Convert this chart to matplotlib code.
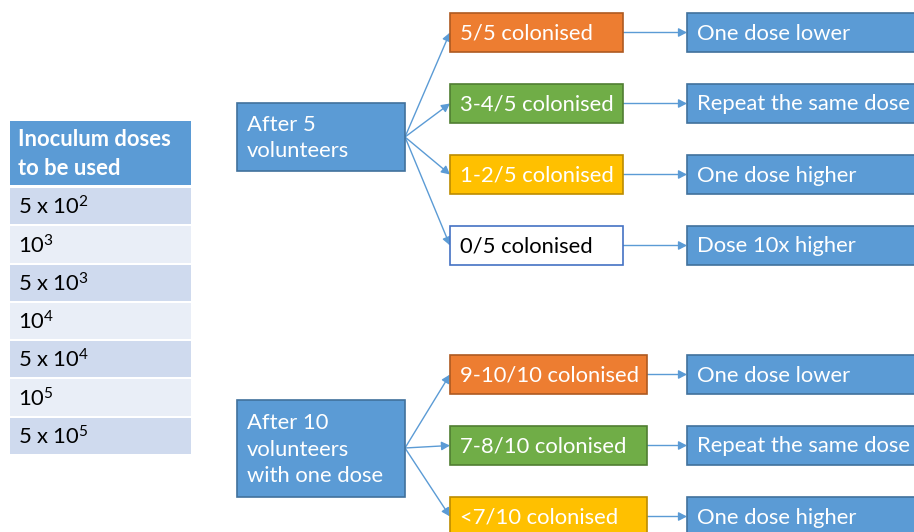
import matplotlib
matplotlib.use("Agg")
import matplotlib.pyplot as plt
from matplotlib.patches import Rectangle, FancyArrowPatch

plt.rcParams['font.family'] = ['Lato', 'DejaVu Sans']
plt.rcParams['mathtext.fontset'] = 'custom'
plt.rcParams['mathtext.rm'] = 'Lato'
plt.rcParams['mathtext.it'] = 'Lato:italic'
plt.rcParams['mathtext.bf'] = 'Lato:bold'

# ---- content ----
table_header = "Inoculum doses\nto be used"
doses = ["5 x 10$^{2}$", "10$^{3}$", "5 x 10$^{3}$", "10$^{4}$",
         "5 x 10$^{4}$", "10$^{5}$", "5 x 10$^{5}$"]

stage1_label = "After 5\nvolunteers"
stage1_outcomes = ["5/5 colonised", "3-4/5 colonised", "1-2/5 colonised", "0/5 colonised"]
stage1_actions = ["One dose lower", "Repeat the same dose", "One dose higher", "Dose 10x higher"]

stage2_label = "After 10\nvolunteers\nwith one dose"
stage2_outcomes = ["9-10/10 colonised", "7-8/10 colonised", "<7/10 colonised"]
stage2_actions = ["One dose lower", "Repeat the same dose", "One dose higher"]

# ---- styles ----
BLUE = "#5B9BD5"; BLUE_EDGE = "#41719C"
ORANGE = "#ED7D31"; ORANGE_EDGE = "#AE5A21"
GREEN = "#70AD47"; GREEN_EDGE = "#507E32"
YELLOW = "#FFC000"; YELLOW_EDGE = "#BC8C00"
WHITE = "#FFFFFF"; WHITE_EDGE = "#4472C4"
outcome_styles = [(ORANGE, ORANGE_EDGE, "white"), (GREEN, GREEN_EDGE, "white"),
                  (YELLOW, YELLOW_EDGE, "white"), (WHITE, WHITE_EDGE, "black")]
FS = 15.8
LS = 1.42

W, H = 914, 532
fig = plt.figure(figsize=(W / 100, H / 100), dpi=100)
ax = fig.add_axes([0, 0, 1, 1])
ax.set_xlim(0, W)
ax.set_ylim(H, 0)
ax.axis("off")


def box(x0, y0, x1, y1, fc, ec, text, tc, fs=FS, lw=1.2, **kw):
    ax.add_patch(Rectangle((x0, y0), x1 - x0, y1 - y0, facecolor=fc,
                           edgecolor=ec, linewidth=lw, zorder=2))
    ax.text(x0 + 10, (y0 + y1) / 2 + 1, text, color=tc, fontsize=fs,
            ha="left", va="center", linespacing=LS, zorder=3, **kw)


def arrow(p0, p1):
    ax.add_patch(FancyArrowPatch(p0, p1, arrowstyle="-|>,head_length=5,head_width=2.6",
                                 mutation_scale=1, color=BLUE, linewidth=1.0,
                                 shrinkA=0, shrinkB=0, zorder=1))

# ---- table ----
tx0, tx1 = 10, 191
ax.add_patch(Rectangle((tx0, 121), tx1 - tx0, 64, facecolor=BLUE, edgecolor="none"))
ax.text(tx0 + 8, 154, table_header, color="white", fontsize=FS, fontweight="bold",
        ha="left", va="center", linespacing=LS)
row_h = (455 - 187) / len(doses)
for i, d in enumerate(doses):
    y0 = 187 + i * row_h
    fc = "#CFDAEE" if i % 2 == 0 else "#E9EEF7"
    ax.add_patch(Rectangle((tx0, y0 + 1), tx1 - tx0, row_h - 2, facecolor=fc, edgecolor="none"))
    ax.text(tx0 + 8, y0 + row_h / 2 + 1, d, color="black", fontsize=FS,
            ha="left", va="center")

# ---- stage 1 ----
box(237, 103, 405, 171, BLUE, BLUE_EDGE, stage1_label, "white")
ys1 = [13, 84, 155, 226]
oh = 39
for i, (o, a) in enumerate(zip(stage1_outcomes, stage1_actions)):
    fc, ec, tc = outcome_styles[i]
    y0 = ys1[i]
    box(450, y0, 623, y0 + oh, fc, ec, o, tc)
    box(687, y0, 930, y0 + oh, BLUE, BLUE_EDGE, a, "white")
    arrow((623, y0 + oh / 2), (687, y0 + oh / 2))
    arrow((405, 137), (450, y0 + oh / 2))

# ---- stage 2 ----
box(237, 400, 405, 497, BLUE, BLUE_EDGE, stage2_label, "white")
ys2 = [355, 426, 497]
for i, (o, a) in enumerate(zip(stage2_outcomes, stage2_actions)):
    fc, ec, tc = outcome_styles[i]
    y0 = ys2[i]
    box(450, y0, 647, y0 + oh, fc, ec, o, tc)
    box(687, y0, 930, y0 + oh, BLUE, BLUE_EDGE, a, "white")
    arrow((647, y0 + oh / 2), (687, y0 + oh / 2))
    arrow((405, 448), (450, y0 + oh / 2))

fig.savefig("out.png", dpi=100)
